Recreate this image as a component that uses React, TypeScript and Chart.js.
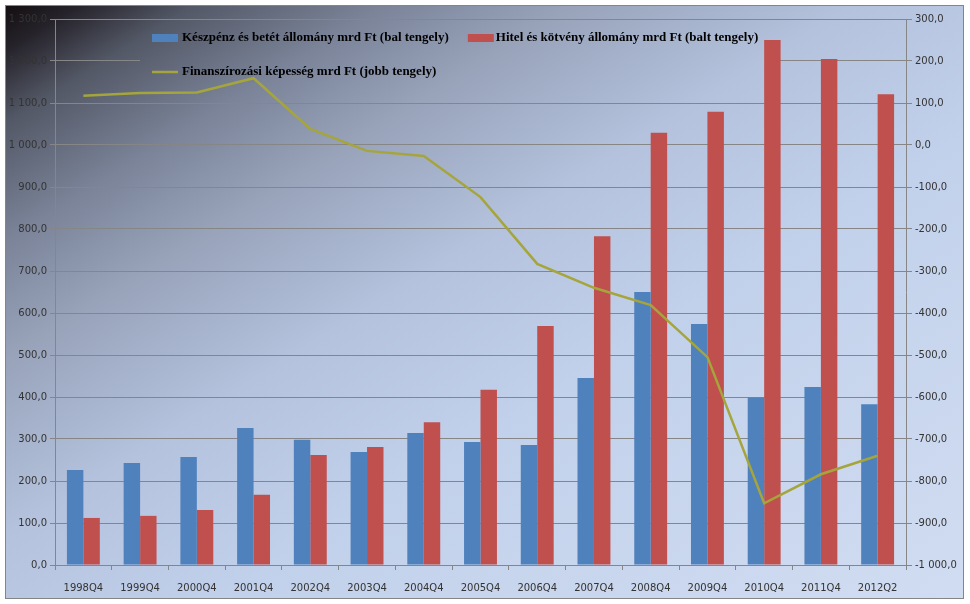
import React, { useEffect, useRef } from "react";
import { Chart, registerables } from "chart.js";

Chart.register(...registerables);

const categories = [
  "1998Q4", "1999Q4", "2000Q4", "2001Q4", "2002Q4", "2003Q4", "2004Q4", "2005Q4",
  "2006Q4", "2007Q4", "2008Q4", "2009Q4", "2010Q4", "2011Q4", "2012Q2",
];
const cashDeposits = [226, 243, 257, 326, 298, 269, 314, 293, 286, 445, 650, 574, 399, 424, 383];
const loansBonds = [112, 117, 131, 167, 262, 281, 340, 417, 569, 783, 1029, 1079, 1250, 1205, 1121];
const financing = [117, 124, 125, 159, 38, -14, -26, -124, -283, -340, -381, -505, -853, -784, -740];
const seriesLabels = [
  "Készpénz és betét állomány mrd Ft (bal tengely)",
  "Hitel és kötvény állomány mrd Ft (balt tengely)",
  "Finanszírozási képesség mrd Ft (jobb tengely)",
];
const leftTicks = { min: 0, max: 1300, step: 100 };
const rightTicks = { min: -1000, max: 300, step: 100 };

const fmt = (v: number) => {
  const neg = v < 0;
  const s = Math.abs(v).toFixed(1);
  const [i, d] = s.split(".");
  const ii = i.replace(/\B(?=(\d{3})+(?!\d))/g, " ");
  return (neg ? "-" : "") + ii + "," + d;
};

const makeGradient = (ctx: CanvasRenderingContext2D) => {
  const x0 = 5, y0 = 5;
  const len = 1000;
  const dx = 1 / Math.sqrt(1 + 1.6 * 1.6);
  const dy = 1.6 / Math.sqrt(1 + 1.6 * 1.6);
  const g = ctx.createLinearGradient(x0, y0, x0 + dx * len, y0 + dy * len);
  g.addColorStop(0, "#120e10");
  g.addColorStop(0.04, "#26232b");
  g.addColorStop(0.1, "#535866");
  g.addColorStop(0.2, "#7a8398");
  g.addColorStop(0.3, "#98a3ba");
  g.addColorStop(0.45, "#b4c2dd");
  g.addColorStop(0.62, "#c2d1eb");
  g.addColorStop(1, "#d0dcf1");
  return g;
};

const backgroundPlugin = {
  id: "bgPlugin",
  beforeDraw(chart: any) {
    const ctx = chart.ctx as CanvasRenderingContext2D;
    ctx.save();
    ctx.fillStyle = "#ffffff";
    ctx.fillRect(0, 0, chart.width, chart.height);
    ctx.fillStyle = makeGradient(ctx);
    ctx.fillRect(5, 5, 959, 594);
    ctx.strokeStyle = "#858585";
    ctx.lineWidth = 1;
    ctx.strokeRect(5.5, 5.5, 958, 593);
    ctx.restore();
  },
};

const legendPlugin = {
  id: "customLegend",
  beforeDatasetsDraw(chart: any) {
    const ctx = chart.ctx as CanvasRenderingContext2D;
    const ds = chart.data.datasets;
    ctx.save();
    ctx.fillStyle = makeGradient(ctx);
    ctx.fillRect(140, 21, 632, 77);
    ctx.font = "bold 13px 'Liberation Serif'";
    ctx.textBaseline = "middle";
    const x1 = 152;
    const row1 = 38;
    const row2 = 72;
    ctx.fillStyle = ds[0].backgroundColor;
    ctx.fillRect(x1, row1 - 4, 26, 8);
    ctx.fillStyle = "#000";
    ctx.fillText(ds[0].label, x1 + 30, row1);
    const w1 = ctx.measureText(ds[0].label).width;
    const x2 = x1 + 30 + w1 + 19;
    ctx.fillStyle = ds[1].backgroundColor;
    ctx.fillRect(x2, row1 - 4, 26, 8);
    ctx.fillStyle = "#000";
    ctx.fillText(ds[1].label, x2 + 28, row1);
    ctx.strokeStyle = ds[2].borderColor;
    ctx.lineWidth = 2.5;
    ctx.beginPath();
    ctx.moveTo(x1, row2);
    ctx.lineTo(x1 + 26, row2);
    ctx.stroke();
    ctx.fillStyle = "#000";
    ctx.fillText(ds[2].label, x1 + 30, row2);
    ctx.restore();
  },
};

export default function App() {
  const ref = useRef<HTMLCanvasElement>(null);
  useEffect(() => {
    if (!ref.current) return;
    const tickFont = { family: "'DejaVu Sans'", size: 10 };
    const gridColor = "#868686";
    const chart = new Chart(ref.current, {
      type: "bar",
      data: {
        labels: categories,
        datasets: [
          {
            type: "bar",
            label: seriesLabels[0],
            data: cashDeposits,
            backgroundColor: "#4f81bd",
            yAxisID: "y",
            order: 1,
            categoryPercentage: 0.58,
            barPercentage: 1,
          } as any,
          {
            type: "bar",
            label: seriesLabels[1],
            data: loansBonds,
            backgroundColor: "#c0504d",
            yAxisID: "y",
            order: 1,
            categoryPercentage: 0.58,
            barPercentage: 1,
          } as any,
          {
            type: "line",
            label: seriesLabels[2],
            data: financing,
            borderColor: "#a5a53c",
            backgroundColor: "#a5a53c",
            borderWidth: 2.5,
            pointRadius: 0,
            tension: 0,
            yAxisID: "y1",
            order: 0,
          } as any,
        ],
      },
      options: {
        responsive: false,
        animation: false,
        devicePixelRatio: 1,
        layout: { padding: { top: 19, left: 0, right: 0, bottom: 0 } },
        plugins: {
          legend: { display: false },
          tooltip: { enabled: false },
          title: { display: false },
        },
        scales: {
          x: {
            type: "category",
            offset: true,
            grid: {
              offset: true,
              drawOnChartArea: false,
              tickLength: 5,
              color: gridColor,
            },
            border: { color: gridColor },
            ticks: {
              font: tickFont,
              color: "#333",
              padding: 12,
              maxRotation: 0,
              autoSkip: false,
            },
            afterFit: (s: any) => {
              s.height = 39;
            },
          },
          y: {
            position: "left",
            min: leftTicks.min,
            max: leftTicks.max,
            ticks: {
              stepSize: leftTicks.step,
              font: tickFont,
              color: "#333",
              padding: 3,
              callback: (v: any) => fmt(Number(v)),
            },
            grid: { color: gridColor, tickLength: 5 },
            border: { color: gridColor },
            afterFit: (s: any) => {
              s.width = 55;
            },
          },
          y1: {
            position: "right",
            min: rightTicks.min,
            max: rightTicks.max,
            ticks: {
              stepSize: rightTicks.step,
              font: tickFont,
              color: "#333",
              padding: 3,
              callback: (v: any) => fmt(Number(v)),
            },
            grid: { drawOnChartArea: false, color: gridColor, tickLength: 6 },
            border: { color: gridColor },
            afterFit: (s: any) => {
              s.width = 64;
            },
          },
        },
      } as any,
      plugins: [backgroundPlugin, legendPlugin],
    });
    return () => chart.destroy();
  }, []);
  return (
    <div style={{ position: "absolute", left: 0, top: 0, width: 970, height: 604 }}>
      <canvas ref={ref} width={970} height={604} style={{ width: 970, height: 604, display: "block" }} />
    </div>
  );
}
